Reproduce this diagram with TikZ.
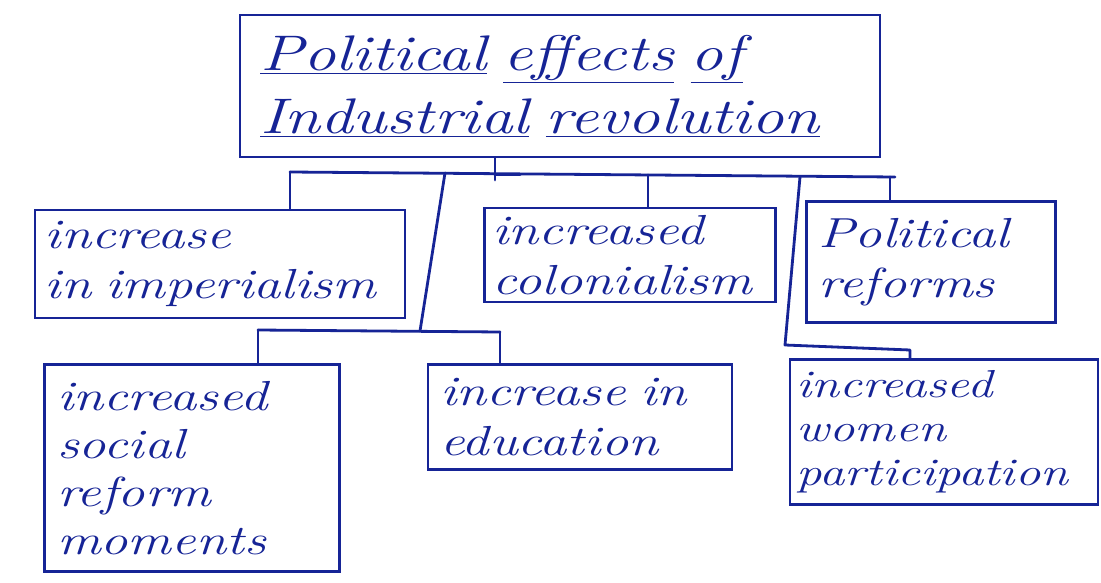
\documentclass[tikz,border=0pt]{standalone}
\usepackage{fontspec}
\setmainfont{Latin Modern Roman}[FakeStretch=1.3]
\definecolor{ink}{RGB}{22,36,150}
\tikzset{
  box/.style={draw=ink, line width=2.8pt, text=ink, align=left, inner xsep=12pt, inner ysep=6pt,
    font=\fontsize{42}{50}\selectfont\itshape},
  conn/.style={draw=ink, line width=2.8pt, line cap=round, line join=round}
}
\begin{document}
\begin{tikzpicture}[x=1pt,y=-1pt]
\useasboundingbox (0,0) rectangle (1101,583);
\fill[white] (0,0) rectangle (1101,583);
% nodes
\node[box, minimum width=640pt, minimum height=142pt, text width=600pt, inner xsep=20pt,
  font=\fontsize{50}{63}\selectfont\itshape] (title) at (560,86)
  {\underline{Political} \underline{effects} \underline{of}\\ \underline{Industrial} \underline{revolution}};
\node[box, minimum width=370pt, minimum height=108pt, text width=350pt, inner xsep=10pt] (imp) at (220,264) {increase\\ in imperialism};
\node[box, minimum width=290pt, minimum height=94pt, text width=275pt, inner xsep=8pt] (col) at (630,255) {increased\\ colonialism};
\node[box, minimum width=247pt, minimum height=121pt, text width=225pt] (pol) at (931,262) {Political\\ reforms};
\node[box, minimum width=295pt, minimum height=207pt, text width=270pt, font=\fontsize{42}{48}\selectfont\itshape] (soc) at (192,468) {increased\\ social\\ reform\\ moments};
\node[box, minimum width=304pt, minimum height=105pt, text width=280pt] (edu) at (580,417) {increase in\\ education};
\node[box, minimum width=308pt, minimum height=145pt, text width=295pt, inner xsep=6pt, font=\fontsize{39}{44}\selectfont\itshape] (wom) at (944,432) {increased\\ women\\ participation};
% bus coordinates
\coordinate (b0) at (290,172);
\coordinate (b1) at (895,177);
\coordinate (t0) at (495,180);
\coordinate (ba) at (445,173);
\coordinate (bb) at (420,331);
\coordinate (c0) at (258,330);
\coordinate (c1) at (500,332);
\coordinate (bw) at (800,177);
\coordinate (bw1) at (785,345);
\coordinate (bw2) at (910,350);
% connectors
\draw[conn] (title.south -| t0) -- (t0) (495,175) -- (520,175);
\draw[conn] (b0) -- (b1);
\draw[conn] (b0) -- (b0 |- imp.north);
\draw[conn] (648,175) -- (648,0 |- col.north);
\draw[conn] (890,177) -- (890,0 |- pol.north);
\draw[conn] (ba) -- (bb);
\draw[conn] (c0) -- (c1);
\draw[conn] (c0) -- (c0 |- soc.north);
\draw[conn] (c1) -- (c1 |- edu.north);
\draw[conn] (bw) -- (bw1) -- (bw2) -- (bw2 |- wom.north);
\end{tikzpicture}
\end{document}
